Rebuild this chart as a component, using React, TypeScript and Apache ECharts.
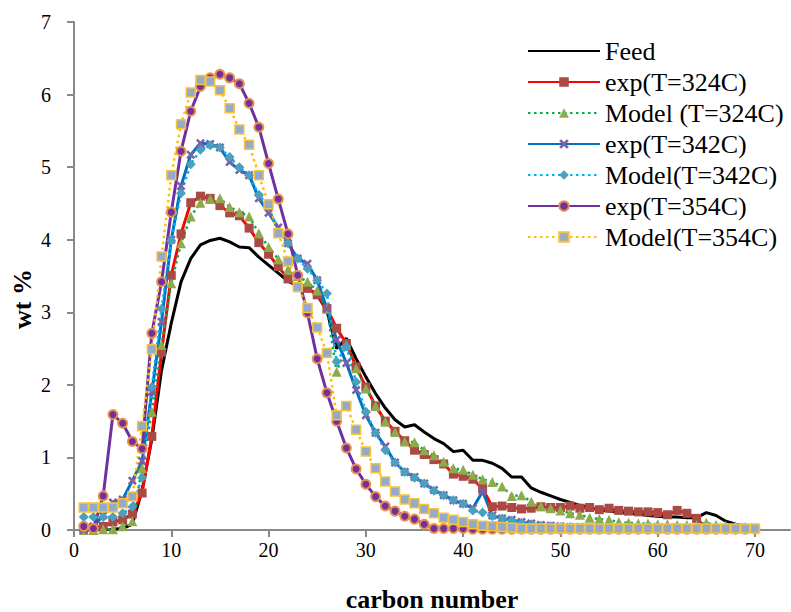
import React, { useEffect, useRef } from "react";
import * as echarts from "echarts";

const carbon = [1,2,3,4,5,6,7,8,9,10,11,12,13,14,15,16,17,18,19,20,21,22,23,24,25,26,27,28,29,30,31,32,33,34,35,36,37,38,39,40,41,42,43,44,45,46,47,48,49,50,51,52,53,54,55,56,57,58,59,60,61,62,63,64,65,66,67,68,69,70];

const feed = [0,0,0,0.01,0.02,0.08,0.55,1.25,2.2,2.85, 3.42,3.74,3.93,3.99,4.02,3.97,3.9,3.89,3.76,3.65, 3.54,3.43,3.36,3.33,3.24,3.02,2.5,2.64,2.36,2.11, 1.88,1.68,1.52,1.42,1.45,1.35,1.26,1.19,1.08,1.1, 0.96,0.96,0.92,0.85,0.73,0.73,0.58,0.52,0.47,0.42, 0.38,0.34,0.31,0.28,0.26,0.24,0.23,0.22,0.2,0.19, 0.18,0.18,0.17,0.17,0.24,0.2,0.12,0.08,0.06,0.05];

const exp324 = [0.02,0.03,0.05,0.11,0.14,0.22,0.51,1.29,2.45,3.51, 4.08,4.51,4.6,4.57,4.47,4.37,4.33,4.16,3.96,3.8, 3.63,3.46,3.34,3.33,3.24,3.05,2.78,2.57,2.25,1.97, 1.71,1.5,1.36,1.23,1.1,1.04,0.97,0.91,0.77,0.74, 0.7,0.57,0.32,0.33,0.31,0.29,0.3,0.32,0.31,0.31, 0.33,0.3,0.31,0.28,0.3,0.27,0.26,0.25,0.25,0.24, 0.21,0.27,0.23,0.16,0.02];

const model324 = [0,0,0.01,0.01,0.05,0.12,0.85,1.63,2.55,3.4, 3.95,4.32,4.51,4.56,4.57,4.45,4.38,4.32,4.09,3.9, 3.73,3.59,3.5,3.42,3.3,3.05,2.18,2.55,2.23,1.95, 1.71,1.49,1.35,1.22,1.21,1.1,1.03,0.94,0.85,0.83, 0.76,0.7,0.66,0.6,0.47,0.48,0.39,0.33,0.3,0.27, 0.23,0.21,0.17,0.15,0.14,0.11,0.1,0.09,0.09,0.08, 0.08,0.07,0.07,0.07,0.1,0.07,0.06,0.05,0.04,0.03];

const exp342 = [0,0.05,0.2,0.38,0.42,0.68,0.95,1.9,2.87,4.0, 4.74,5.17,5.33,5.32,5.27,5.07,4.96,4.89,4.57,4.37, 4.17,3.95,3.74,3.67,3.44,3.05,2.62,2.3,1.93,1.58, 1.34,1.15,0.93,0.8,0.73,0.64,0.55,0.48,0.41,0.36, 0.3,0.53,0.2,0.16,0.14,0.11,0.09,0.07,0.06,0.05, 0.04,0.04,0.03,0.03,0.02,0.02,0.02,0.02,0.01,0.01, 0.01,0.01,0.01,0.01,0.01,0.01,0.01,0.01,0.01,0.01];

const model342 = [0.18,0.18,0.18,0.18,0.23,0.32,0.72,1.97,3.05,3.99, 4.64,5.04,5.24,5.3,5.27,5.14,5.0,4.89,4.62,4.45, 4.11,3.95,3.74,3.6,3.44,3.26,2.32,2.53,2.04,1.63, 1.34,1.1,0.93,0.8,0.72,0.64,0.54,0.48,0.41,0.36, 0.27,0.24,0.19,0.16,0.13,0.1,0.08,0.06,0.05,0.04, 0.04,0.03,0.03,0.02,0.02,0.02,0.02,0.01,0.01,0.01, 0.01,0.01,0.01,0.01,0.01,0.01,0.01,0.01,0.01,0.01];

const exp354 = [0.05,0.02,0.47,1.59,1.47,1.22,1.12,2.71,3.42,4.38, 5.22,5.77,6.11,6.23,6.28,6.23,6.15,5.88,5.55,5.05, 4.56,4.08,3.51,2.99,2.36,1.89,1.5,1.13,0.84,0.63, 0.46,0.33,0.26,0.19,0.15,0.08,0.02,0.02,0.02,0.02, 0.01,0.01,0.01,0.01,0.01,0.01,0.01,0.01,0.01,0.01, 0.01,0.01,0.01,0.01,0.01,0.01,0.01,0.01,0.01,0.01, 0.01,0.01,0.01,0.01,0.01,0.01,0.01,0.01,0.01,0.01];

const model354 = [0.31,0.31,0.31,0.31,0.37,0.46,1.43,2.49,3.77,4.89, 5.59,6.03,6.2,6.18,6.06,5.81,5.52,5.31,4.89,4.49, 4.09,3.7,3.35,3.06,2.79,2.44,1.58,1.71,1.38,1.08, 0.85,0.67,0.53,0.42,0.37,0.29,0.23,0.17,0.14,0.11, 0.08,0.06,0.05,0.04,0.03,0.02,0.02,0.02,0.02,0.02, 0.02,0.02,0.02,0.02,0.02,0.02,0.02,0.02,0.02,0.02, 0.02,0.02,0.02,0.02,0.02,0.02,0.02,0.02,0.02,0.02];

const xTicks = [0, 10, 20, 30, 40, 50, 60, 70];
const seriesNames = ["Feed", "exp(T=324C)", "Model (T=324C)", "exp(T=342C)", "Model(T=342C)", "exp(T=354C)", "Model(T=354C)"];

const FONT = "'Liberation Serif', 'Times New Roman', serif";
const X_SYMBOL = "path://M2,0 L5,3 L8,0 L10,2 L7,5 L10,8 L8,10 L5,7 L2,10 L0,8 L3,5 L0,2 Z";

function pairs(vals: number[]) {
  return vals.map((v, i) => [carbon[i], v]);
}

export default function App() {
  const ref = useRef<HTMLDivElement>(null);
  useEffect(() => {
    if (!ref.current) return;
    const chart = echarts.init(ref.current, null, { renderer: "svg" });
    const dotted = [2.5, 3.5];
    chart.setOption({
      animation: false,
      backgroundColor: "#ffffff",
      textStyle: { fontFamily: FONT },
      grid: { left: 74, right: 1, top: 22, bottom: 82, containLabel: false, outerBoundsMode: "none" },
      legend: {
        orient: "vertical",
        left: 522,
        top: 33,
        itemWidth: 72,
        itemHeight: 12,
        itemGap: 5,
        data: seriesNames.map((n, i) => (i === 0 ? { name: n, itemStyle: { opacity: 0 } } : { name: n })),
        textStyle: { fontFamily: FONT, fontSize: 26, color: "#000" },
      },
      graphic: [
        {
          type: "text",
          x: 22,
          y: 299,
          rotation: Math.PI / 2,
          style: {
            text: "wt %",
            font: "bold 26px 'Liberation Serif', 'Times New Roman', serif",
            fill: "#000",
            align: "center",
            verticalAlign: "middle",
          },
        },
      ],
      xAxis: {
        type: "value",
        min: 0,
        max: 73.6,
        interval: 10,
        name: "carbon number",
        nameLocation: "middle",
        nameGap: 56,
        nameTextStyle: { fontFamily: FONT, fontSize: 26, fontWeight: "bold", color: "#000" },
        axisLine: { lineStyle: { color: "#888888", width: 2 } },
        axisTick: { show: true, length: 7, lineStyle: { color: "#888888", width: 2 }, customValues: xTicks },
        axisLabel: { fontFamily: FONT, fontSize: 20, color: "#000", margin: 10, customValues: xTicks },
        splitLine: { show: false },
      },
      yAxis: {
        type: "value",
        min: 0,
        max: 7,
        interval: 1,
        axisLine: { show: true, lineStyle: { color: "#888888", width: 2 } },
        axisTick: { show: true, length: 7, lineStyle: { color: "#888888", width: 2 } },
        axisLabel: { fontFamily: FONT, fontSize: 20, color: "#000", margin: 23 },
        splitLine: { show: false },
      },
      series: [
        {
          name: seriesNames[0], type: "line", data: pairs(feed), symbol: "none",
          lineStyle: { color: "#000000", width: 3 }, itemStyle: { color: "#000000" },
        },
        {
          name: seriesNames[1], type: "line", data: pairs(exp324), symbol: "rect", symbolSize: 9,
          lineStyle: { color: "#FF0000", width: 3 }, itemStyle: { color: "#A94A44" },
        },
        {
          name: seriesNames[2], type: "line", data: pairs(model324), symbol: "triangle", symbolSize: 10,
          lineStyle: { color: "#00B050", width: 2.5, type: dotted }, itemStyle: { color: "#8FAA4A" },
        },
        {
          name: seriesNames[3], type: "line", data: pairs(exp342), symbol: X_SYMBOL, symbolSize: 9,
          lineStyle: { color: "#0070C0", width: 3 }, itemStyle: { color: "#7D5FA5" },
        },
        {
          name: seriesNames[4], type: "line", data: pairs(model342), symbol: "diamond", symbolSize: 10,
          lineStyle: { color: "#00B0F0", width: 2.5, type: dotted }, itemStyle: { color: "#4AA0BD" },
        },
        {
          name: seriesNames[5], type: "line", data: pairs(exp354), symbol: "circle", symbolSize: 9,
          lineStyle: { color: "#7030A0", width: 3 }, itemStyle: { color: "#7030A0", borderColor: "#E8914A", borderWidth: 2 },
        },
        {
          name: seriesNames[6], type: "line", data: pairs(model354), symbol: "rect", symbolSize: 9,
          lineStyle: { color: "#FFC000", width: 2.5, type: dotted }, itemStyle: { color: "#94AACB", borderColor: "#F8C33A", borderWidth: 1.5 },
        },
      ],
    });
    return () => chart.dispose();
  }, []);
  return <div ref={ref} style={{ position: "absolute", left: 0, top: 0, width: 791, height: 612 }} />;
}
